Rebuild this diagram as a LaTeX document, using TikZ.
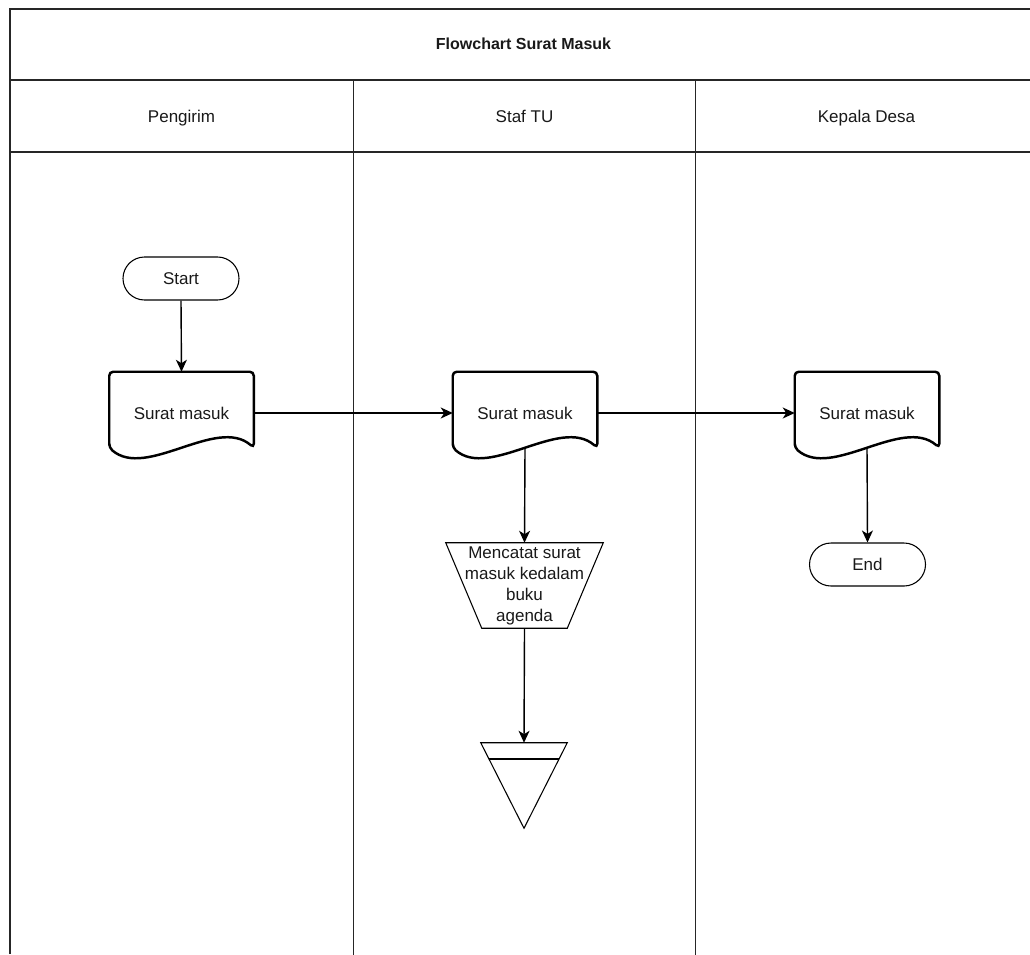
\documentclass[tikz,border=0pt]{standalone}
\usepackage{fontspec}
\setmainfont{Liberation Sans}
\usetikzlibrary{arrows.meta,calc,shapes.misc}
\newcommand\fsz{\fontsize{12.75pt}{15.75pt}\selectfont}
\newcommand\fst{\fontsize{12pt}{14pt}\selectfont\bfseries}
\tikzset{
  poolline/.style={draw=black!85,line width=1.5pt},
  laneline/.style={draw=black!85,line width=1.1pt},
  docline/.style={draw=black,line width=1.85pt,rounded corners=3pt},
  thinshape/.style={draw=black,line width=0.8pt},
  txt/.style={font=\fsz,text=black!90,inner sep=0pt},
  lbl/.style={txt,text height=12pt,text depth=2.9pt},
  ttl/.style={font=\fst,text=black!90,inner sep=0pt,text height=11.3pt,text depth=2.7pt},
  docbox/.style={lbl,minimum width=108pt,minimum height=61.5pt},
  term/.style={rounded rectangle,thinshape,lbl,minimum width=87pt,minimum height=32.25pt},
  trapbox/.style={txt,align=center,minimum width=117.75pt,minimum height=63.75pt},
  tribox/.style={inner sep=0pt,minimum width=64.5pt,minimum height=63.75pt},
  arr/.style={draw=black,line width=1.05pt,-{Stealth[length=9pt,width=8.25pt,inset=2.6pt]}},
}
\newcommand\docshape[1]{%
  \draw[docline] ($(#1.north west)+(0,76)$) -- (#1.north west) -- (#1.north east) -- ($(#1.north east)+(0,76)$)
    .. controls ($(#1.north east)+(-37,44)$) and ($(#1.north west)+(37,108)$) .. ($(#1.north west)+(0,76)$) -- cycle;}
\begin{document}
\begin{tikzpicture}[x=0.75pt,y=-0.75pt]
\useasboundingbox (0,0) rectangle (1030,954);
\fill[white] (0,0) rectangle (1030,954);
% pool
\draw[poolline] (10,954) -- (10,8.5) -- (1031,8.5);
\draw[poolline] (10,80) -- (1031,80);
\draw[poolline] (10,152) -- (1031,152);
\draw[laneline] (353.5,80) -- (353.5,955);
\draw[laneline] (695.5,80) -- (695.5,955);
\node[ttl] (title) at (523.5,44) {Flowchart Surat Masuk};
\node[lbl] (h1) at (181.5,116) {Pengirim};
\node[lbl] (h2) at (524.5,116) {Staf TU};
\node[lbl] (h3) at (866.5,116) {Kepala Desa};
% shapes
\node[term] (st) at (181,278.5) {Start};
\node[docbox] (d1) at (181.5,413) {Surat masuk};
\node[docbox] (d2) at (525,413) {Surat masuk};
\node[docbox] (d3) at (867,413) {Surat masuk};
\docshape{d1}
\docshape{d2}
\docshape{d3}
\node[term] (en) at (867.5,564.5) {End};
\node[trapbox] (tr) at (524.5,585.5) {Mencatat surat\\masuk kedalam\\buku\\agenda};
\draw[thinshape] (tr.north west) -- (tr.north east) -- ($(tr.south east)+(-36,0)$) -- ($(tr.south west)+(36,0)$) -- cycle;
\node[tribox] (tri) at (524,785.5) {};
\draw[thinshape] (tri.north west) -- (tri.north east) -- (tri.south) -- cycle;
\draw[thinshape] ($(tri.north west)!0.19!(tri.south)$) -- ($(tri.north east)!0.19!(tri.south)$);
% connectors
\draw[arr] (st.south) -- (d1.north);
\draw[arr] (d1.east) -- (d2.west);
\draw[arr] (d2.east) -- (d3.west);
\draw[arr] ($(d2.north)+(0,76)$) -- (tr.north);
\draw[arr] (tr.south) -- (tri.north);
\draw[arr] ($(d3.north)+(0,76)$) -- (en.north);
\end{tikzpicture}
\end{document}
